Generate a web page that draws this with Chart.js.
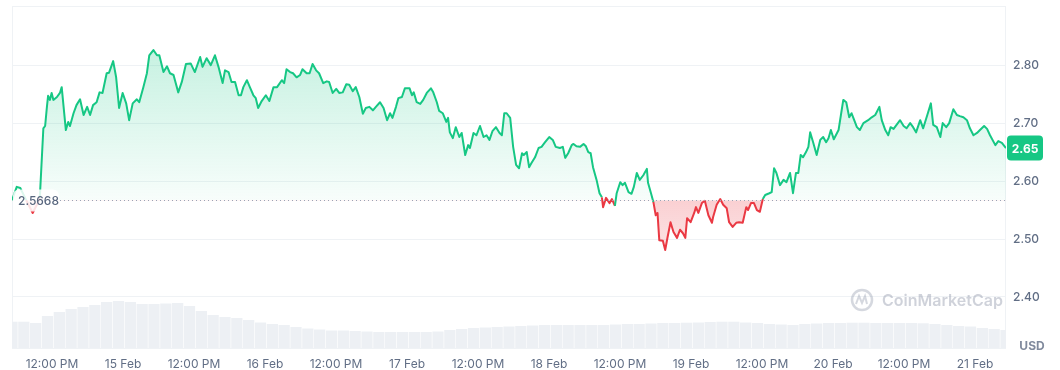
<!DOCTYPE html>
<html>
<head>
<meta charset="utf-8">
<script src="https://cdn.jsdelivr.net/npm/chart.js@4.4.1/dist/chart.umd.min.js"></script>
<style>
  html, body { margin: 0; padding: 0; background: #fff; }
  #wrap { width: 1060px; height: 370px; }
</style>
</head>
<body>
<div id="wrap"><canvas id="chart" width="1060" height="370"></canvas></div>
<script>
// hours since start of the 7 day window (14 Feb ~05:15)
const hours = [
  0.0, 0.8, 1.4, 2.4, 3.5, 4.2, 4.7, 5.3, 5.6, 5.9, 6.1, 6.4, 6.7, 7.0, 7.6, 8.1, 8.4, 9.1, 9.5, 9.8,
  10.4, 10.9, 11.5, 12.1, 12.7, 13.2, 13.7, 14.3, 14.8, 15.3, 16.0, 16.4, 17.1, 17.6, 18.1, 18.7, 19.3, 19.8,
  20.4, 21.1, 21.5, 22.2, 22.8, 23.2, 23.9, 24.5, 24.9, 25.6, 26.2, 26.7, 27.3, 28.1, 28.7, 29.4,
  30.2, 30.9, 31.8, 32.2, 32.9, 33.6, 34.3, 34.9, 35.6, 36.0, 36.6, 37.1, 37.7, 38.3, 38.7, 39.1, 39.7,
  40.2, 40.8, 41.2, 41.6, 42.2, 42.9, 43.5, 44.2, 44.8, 45.6, 46.0, 46.4, 47.0, 47.5, 48.1, 48.7, 49.1, 49.8,
  50.3, 50.8, 51.4, 51.9, 52.6, 53.2, 53.6, 54.2, 54.8, 55.3, 55.9, 56.5, 57.0, 57.6, 58.1, 58.7, 59.3, 59.8,
  60.4, 61.0, 61.5, 62.2, 62.8, 63.4, 63.9, 64.3, 64.9, 65.3, 65.9, 66.4, 67.2, 67.6, 67.9, 68.4, 69.0, 69.5,
  70.1, 70.8, 71.2, 71.8, 72.2, 72.8, 73.4, 73.7, 74.0, 74.5, 75.0, 75.6, 76.0, 76.6, 77.1, 77.4, 78.0, 78.5, 79.1, 79.7,
  80.2, 80.7, 81.2, 81.8, 82.4, 82.8, 83.2, 83.6, 84.2, 84.7, 85.2, 85.7, 86.2, 86.5, 87.0, 87.4, 87.8, 88.4, 89.0, 89.5,
  90.1, 90.8, 91.4, 91.9, 92.6, 93.1, 93.5, 94.0, 94.6, 94.9, 95.4, 96.0, 96.6, 97.0, 97.4, 97.8, 98.2, 98.8, 99.3, 99.7, 99.9,
  100.4, 101.0, 101.4, 101.9, 102.2, 102.8, 103.2, 103.6, 104.2, 104.7, 105.1, 105.6, 106.1, 106.7, 107.3, 107.5, 108.0, 108.4, 108.8, 109.1, 109.4,
  110.0, 110.4, 110.8, 111.3, 111.8, 112.4, 112.9, 113.4, 113.8, 114.1, 114.7, 115.3, 115.6, 116.0, 116.6, 117.1, 117.7, 118.3, 118.5, 119.1, 119.7,
  120.2, 120.8, 121.2, 121.8, 122.4, 122.9, 123.5, 124.1, 124.4, 124.9, 125.4, 125.9, 126.4, 126.9, 127.3, 128.0, 128.4, 128.8, 129.2, 129.8,
  130.4, 130.9, 131.5, 132.0, 132.5, 132.9, 133.3, 133.7, 134.2, 134.6, 134.9, 135.4, 136.0, 136.6, 137.1, 137.6, 138.0, 138.4, 138.9, 139.7,
  140.1, 140.5, 141.0, 141.5, 141.9, 142.2, 142.8, 143.3, 143.9, 144.7, 145.3, 145.9, 146.6, 147.0, 147.6, 148.1, 148.5, 149.0, 149.5,
  150.1, 150.7, 151.2, 151.8, 152.3, 152.8, 153.5, 154.0, 154.7, 155.3, 155.7, 156.3, 156.9, 157.3, 157.9, 158.4, 159.1, 159.7,
  160.2, 160.8, 161.4, 161.9, 162.5, 163.1, 163.6, 164.3, 164.8, 165.3, 166.2, 166.7, 167.3, 168.0
];

const prices = [
  2.567, 2.590, 2.588, 2.567, 2.545, 2.559, 2.571, 2.691, 2.695, 2.728, 2.747, 2.740, 2.752, 2.740, 2.745, 2.752, 2.762, 2.688, 2.702, 2.695,
  2.717, 2.731, 2.741, 2.714, 2.728, 2.714, 2.731, 2.736, 2.753, 2.752, 2.786, 2.787, 2.807, 2.779, 2.726, 2.752, 2.734, 2.705,
  2.734, 2.741, 2.736, 2.762, 2.786, 2.817, 2.826, 2.817, 2.817, 2.788, 2.798, 2.786, 2.783, 2.753, 2.771, 2.802,
  2.803, 2.788, 2.814, 2.797, 2.812, 2.800, 2.817, 2.797, 2.769, 2.791, 2.788, 2.771, 2.771, 2.748, 2.748, 2.762, 2.774,
  2.762, 2.748, 2.743, 2.726, 2.738, 2.748, 2.738, 2.762, 2.762, 2.774, 2.769, 2.793, 2.788, 2.786, 2.779, 2.783, 2.793, 2.786,
  2.786, 2.802, 2.791, 2.786, 2.769, 2.772, 2.771, 2.752, 2.759, 2.752, 2.753, 2.767, 2.766, 2.755, 2.762, 2.745, 2.716, 2.726,
  2.728, 2.722, 2.728, 2.736, 2.726, 2.705, 2.717, 2.709, 2.728, 2.743, 2.745, 2.760, 2.760, 2.748, 2.753, 2.736, 2.733, 2.740,
  2.752, 2.760, 2.753, 2.736, 2.721, 2.717, 2.702, 2.709, 2.684, 2.674, 2.693, 2.676, 2.683, 2.645, 2.662, 2.657, 2.683, 2.679, 2.695, 2.676,
  2.679, 2.671, 2.686, 2.693, 2.683, 2.679, 2.717, 2.717, 2.709, 2.659, 2.628, 2.622, 2.648, 2.645, 2.650, 2.624, 2.631, 2.641, 2.657, 2.659,
  2.667, 2.676, 2.671, 2.659, 2.657, 2.659, 2.640, 2.648, 2.662, 2.664, 2.660, 2.659, 2.664, 2.660, 2.650, 2.648, 2.624, 2.602, 2.579, 2.572, 2.555,
  2.571, 2.562, 2.569, 2.557, 2.579, 2.598, 2.593, 2.597, 2.581, 2.578, 2.590, 2.614, 2.602, 2.610, 2.621, 2.597, 2.579, 2.564, 2.541, 2.545, 2.498,
  2.497, 2.481, 2.503, 2.529, 2.512, 2.502, 2.516, 2.510, 2.502, 2.536, 2.529, 2.545, 2.555, 2.545, 2.562, 2.566, 2.541, 2.528, 2.538, 2.559, 2.569,
  2.559, 2.553, 2.529, 2.521, 2.528, 2.529, 2.528, 2.555, 2.550, 2.562, 2.562, 2.550, 2.547, 2.569, 2.576, 2.579, 2.581, 2.622, 2.614, 2.593,
  2.602, 2.598, 2.614, 2.579, 2.614, 2.614, 2.645, 2.641, 2.650, 2.659, 2.684, 2.667, 2.645, 2.671, 2.676, 2.667, 2.674, 2.688, 2.672, 2.688,
  2.714, 2.740, 2.736, 2.710, 2.717, 2.709, 2.693, 2.688, 2.700, 2.705, 2.710, 2.714, 2.728, 2.705, 2.688, 2.679, 2.693, 2.690, 2.697,
  2.705, 2.695, 2.691, 2.700, 2.693, 2.684, 2.705, 2.691, 2.714, 2.734, 2.697, 2.693, 2.676, 2.700, 2.693, 2.700, 2.724, 2.714,
  2.712, 2.710, 2.705, 2.691, 2.679, 2.683, 2.688, 2.695, 2.690, 2.679, 2.662, 2.669, 2.666, 2.657
];

// 24h volume in billions USD, one value every 2 hours
const volumes = [
  2.63, 2.63, 2.50, 3.20, 3.60, 3.90, 4.10, 4.30, 4.60, 4.70,
  4.60, 4.40, 4.40, 4.45, 4.50, 4.20, 3.70, 3.30, 3.10, 3.00,
  2.80, 2.55, 2.40, 2.30, 2.10, 1.95, 1.85, 1.75, 1.75, 1.70,
  1.65, 1.60, 1.60, 1.60, 1.60, 1.60, 1.65, 1.80, 1.90, 2.00,
  2.05, 2.10, 2.15, 2.20, 2.25, 2.30, 2.30, 2.30, 2.30, 2.30,
  2.30, 2.35, 2.40, 2.40, 2.45, 2.50, 2.50, 2.53, 2.55, 2.60,
  2.63, 2.63, 2.55, 2.50, 2.40, 2.35, 2.30, 2.40, 2.45, 2.50,
  2.50, 2.53, 2.53, 2.50, 2.50, 2.50, 2.50, 2.47, 2.40, 2.30,
  2.20, 2.15, 2.00, 1.90, 1.80
];
const volumeStep = 2;

const baseline = 2.5668;
const lastPriceLabel = '2.65';
const yTicks = [2.40, 2.50, 2.60, 2.70, 2.80];
const xTickLabels = ['12:00 PM', '15 Feb', '12:00 PM', '16 Feb', '12:00 PM', '17 Feb', '12:00 PM',
  '18 Feb', '12:00 PM', '19 Feb', '12:00 PM', '20 Feb', '12:00 PM', '21 Feb'];
const firstNoon = 6.76; // hours after start

const green = '#16c784';
const red = '#ea3943';
const gridColor = '#eff2f5';
const textColor = '#616e85';

Chart.defaults.font.family = 'Inter, "Noto Sans", sans-serif';

// frame, baseline, labels and watermark
const overlay = {
  id: 'overlay',
  beforeDatasetsDraw(chart) {
    const { ctx, chartArea: a } = chart;
    ctx.save();
    ctx.strokeStyle = gridColor;
    ctx.lineWidth = 1;
    ctx.strokeRect(a.left + 0.5, a.top + 0.5, a.width - 1, a.height);

    // watermark
    const cx = a.right - 144, cy = a.bottom - 48;
    ctx.strokeStyle = 'rgba(128,138,157,0.33)';
    ctx.lineWidth = 2.5;
    ctx.beginPath();
    ctx.arc(cx, cy, 10, 0, Math.PI * 2);
    ctx.stroke();
    ctx.lineWidth = 2;
    ctx.beginPath();
    ctx.moveTo(cx - 6, cy + 4);
    ctx.lineTo(cx - 3, cy - 4);
    ctx.lineTo(cx, cy + 3);
    ctx.lineTo(cx + 3, cy - 4);
    ctx.lineTo(cx + 5, cy + 4);
    ctx.stroke();
    ctx.fillStyle = 'rgba(128,138,157,0.38)';
    ctx.font = '600 16px Inter';
    ctx.textBaseline = 'middle';
    ctx.fillText('CoinMarketCap', cx + 20, cy + 1);
    ctx.restore();
  },
  afterDatasetsDraw(chart) {
    const { ctx, chartArea: a, scales } = chart;
    const yb = Math.round(scales.y.getPixelForValue(baseline)) + 0.5;
    ctx.save();
    // dotted baseline
    ctx.strokeStyle = '#9aa3b5';
    ctx.lineWidth = 1;
    ctx.setLineDash([1, 3]);
    ctx.beginPath();
    ctx.moveTo(a.left + 48, yb);
    ctx.lineTo(a.right, yb);
    ctx.stroke();
    ctx.setLineDash([]);

    // baseline label
    ctx.fillStyle = 'rgba(255,255,255,0.85)';
    ctx.beginPath();
    ctx.roundRect(a.left + 1, yb - 11, 46, 22, 6);
    ctx.fill();
    ctx.fillStyle = '#58667e';
    ctx.font = '500 12px Inter';
    ctx.textBaseline = 'middle';
    ctx.textAlign = 'left';
    ctx.fillText(baseline.toFixed(4), a.left + 6, yb + 1);

    // last price badge
    const yl = scales.y.getPixelForValue(prices[prices.length - 1]);
    ctx.fillStyle = green;
    ctx.beginPath();
    ctx.roundRect(a.right + 1, yl - 12.5, 36, 25, 4);
    ctx.fill();
    ctx.fillStyle = '#fff';
    ctx.font = 'bold 12px Inter';
    ctx.textAlign = 'center';
    ctx.fillText(lastPriceLabel, a.right + 19, yl + 1);

    // currency
    ctx.fillStyle = '#808a9d';
    ctx.font = 'bold 12px Inter';
    ctx.fillText('USD', chart.width - 28, a.bottom - 2);
    ctx.restore();
  }
};

const canvas = document.getElementById('chart');
const chart = new Chart(canvas, {
  type: 'line',
  data: {
    datasets: [
      {
        type: 'line',
        data: hours.map((h, i) => ({ x: h, y: prices[i] })),
        borderColor: green,
        borderWidth: 2,
        borderJoinStyle: 'round',
        pointRadius: 0,
        tension: 0,
        fill: { target: { value: baseline }, above: 'rgba(22,199,132,0.15)', below: 'rgba(234,57,67,0.2)' },
        segment: {
          borderColor: ctx => ((ctx.p0.parsed.y + ctx.p1.parsed.y) / 2 < baseline ? red : green)
        },
        yAxisID: 'y',
        order: 1
      },
      {
        type: 'bar',
        data: volumes.map((v, i) => ({ x: i * volumeStep, y: v })),
        backgroundColor: '#edf0f4',
        barPercentage: 0.95,
        categoryPercentage: 1,
        yAxisID: 'v',
        order: 2
      }
    ]
  },
  options: {
    responsive: false,
    animation: false,
    layout: { padding: { left: 12, top: 6, right: 0, bottom: 0 } },
    plugins: { legend: { display: false }, tooltip: { enabled: false } },
    scales: {
      x: {
        type: 'linear',
        offset: false,
        min: 0,
        max: 168,
        grid: { display: false, drawTicks: false, offset: false },
        border: { display: false },
        ticks: {
          color: textColor,
          font: { size: 12 },
          padding: 9,
          autoSkip: false,
          maxRotation: 0,
          callback: (v, i) => xTickLabels[i]
        },
        afterBuildTicks: s => { s.ticks = xTickLabels.map((_, i) => ({ value: firstNoon + 12 * i })); },
        afterFit: s => { s.height = 22; s.paddingLeft = 0; s.paddingRight = 0; }
      },
      y: {
        position: 'right',
        min: 2.312,
        max: 2.902,
        grid: { color: gridColor, drawTicks: false },
        border: { display: false },
        ticks: {
          color: textColor,
          font: { size: 12, weight: '500' },
          padding: 7,
          callback: v => v.toFixed(2)
        },
        afterBuildTicks: s => { s.ticks = yTicks.map(v => ({ value: v })); },
        afterFit: s => { s.width = 54; s.paddingTop = 0; s.paddingBottom = 0; }
      },
      v: { display: false, min: 0, max: 34.2 }
    }
  },
  plugins: [overlay]
});

// gradient fills once the plot area is known
const area = chart.chartArea;
const yBase = chart.scales.y.getPixelForValue(baseline);
const gUp = chart.ctx.createLinearGradient(0, area.top, 0, yBase);
gUp.addColorStop(0, 'rgba(22,199,132,0.30)');
gUp.addColorStop(1, 'rgba(22,199,132,0.03)');
const gDown = chart.ctx.createLinearGradient(0, yBase, 0, chart.scales.y.getPixelForValue(2.48));
gDown.addColorStop(0, 'rgba(234,57,67,0.24)');
gDown.addColorStop(1, 'rgba(234,57,67,0.14)');
chart.data.datasets[0].fill = { target: { value: baseline }, above: gUp, below: gDown };
chart.update('none');
</script>
</body>
</html>
